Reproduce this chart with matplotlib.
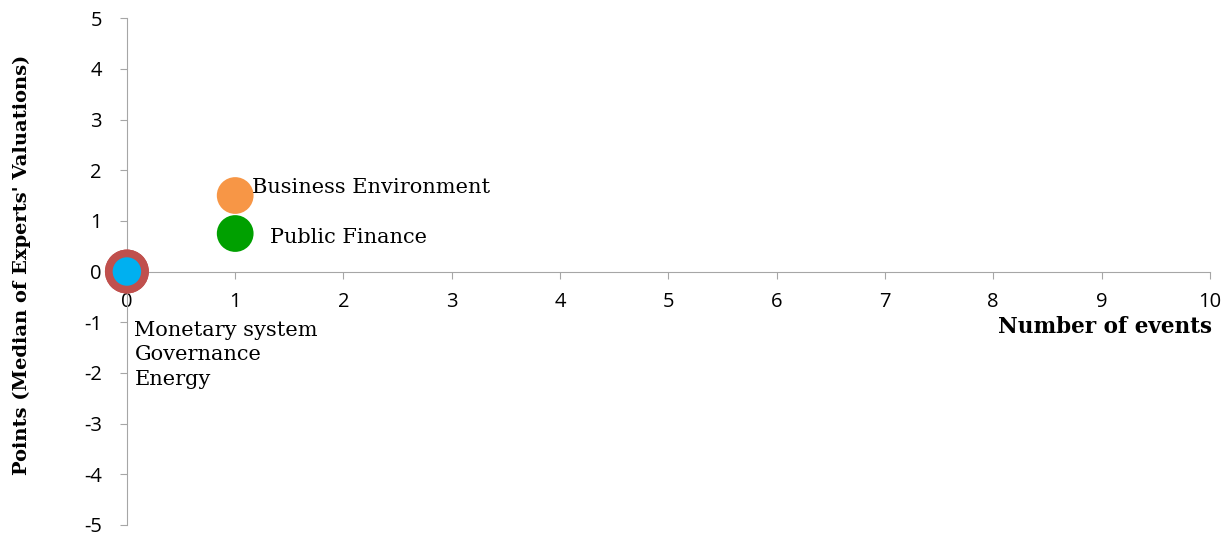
import matplotlib.pyplot as plt

plt.rcParams['axes.unicode_minus'] = False

# values
categories = ['Business Environment', 'Public Finance', 'Monetary system', 'Governance', 'Energy']
n_events = [1, 1, 0, 0, 0]
points = [1.5, 0.75, 0, 0, 0]
colors = ['#f79646', '#00a000', '#c0504d', '#c0504d', '#00b0f0']
sizes = [700, 700, 1000, 1000, 420]

x_ticks = list(range(0, 11))
y_ticks = list(range(-5, 6))

fig = plt.figure(figsize=(12.32, 5.35), dpi=100)
ax = fig.add_axes([0.103, 0.019, 0.879, 0.947])

for x, y, c, s in zip(n_events, points, colors, sizes):
    ax.scatter(x, y, s=s, color=c, edgecolors='none', zorder=3, clip_on=False)

# labels next to the bubbles
ax.annotate('Business Environment', (1, 1.5), xytext=(12, 6), textcoords='offset points',
            fontsize=15, family='DejaVu Serif', va='center', ha='left')
ax.annotate('Public Finance', (1, 0.75), xytext=(25, -3), textcoords='offset points',
            fontsize=15, family='DejaVu Serif', va='center', ha='left')
ax.text(0.07, -0.97, 'Monetary system\nGovernance\nEnergy', fontsize=15,
        family='DejaVu Serif', va='top', ha='left', linespacing=1.38)

# spines through zero (do this before styling ticks, it resets them)
for side in ['top', 'right']:
    ax.spines[side].set_visible(False)
ax.spines['left'].set_position(('data', 0))
ax.spines['bottom'].set_position(('data', 0))
ax.spines['left'].set_color('#a6a6a6')
ax.spines['bottom'].set_color('#a6a6a6')

ax.set_xlim(0, 10)
ax.set_ylim(-5, 5)
ax.set_xticks(x_ticks)
ax.set_yticks(y_ticks)
ax.tick_params(axis='both', direction='out', length=5, color='#a6a6a6',
               labelsize=14.5, labelfontfamily='Open Sans')
ax.tick_params(axis='y', pad=13)
ax.tick_params(axis='x', pad=10)

fig.text(0.984, 0.388, 'Number of events', ha='right', va='center',
         fontsize=15.5, fontweight='bold', family='DejaVu Serif')
fig.text(0.018, 0.505, "Points (Median of Experts' Valuations)", rotation=90,
         ha='center', va='center', fontsize=14, fontweight='bold', family='DejaVu Serif')

plt.savefig('out.png', dpi=100)
plt.close()
